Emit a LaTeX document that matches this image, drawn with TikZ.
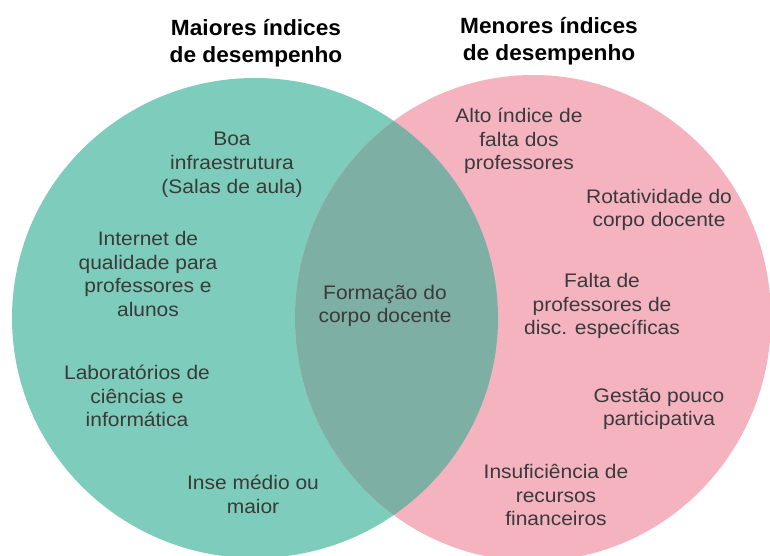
\documentclass[tikz,border=0pt]{standalone}
\usepackage{fontspec}
\setmainfont{Liberation Sans}
\newfontfamily\bodyfont[FakeStretch=1.07]{Liberation Sans}
\newfontfamily\headfont[FakeStretch=1.03]{Liberation Sans}
\definecolor{tealc}{HTML}{7ECCBB}
\definecolor{pinkc}{HTML}{F5B3C0}
\definecolor{overc}{HTML}{7DAFA5}
\definecolor{txtc}{HTML}{3A3A3A}
\tikzset{
  body/.style={align=center, inner sep=0pt, text=txtc,
    font=\bodyfont\fontsize{19.6}{23.8}\selectfont},
  head/.style={align=center, inner sep=0pt, text=black,
    font=\headfont\bfseries\fontsize{22}{27}\selectfont}
}
\begin{document}
\begin{tikzpicture}[x=1pt,y=-1pt]
\useasboundingbox (0,0) rectangle (770,555);
\fill[white] (0,0) rectangle (770,555);
\begin{scope}
\clip (0,0) rectangle (770,555);
\fill[tealc] (255,318) ellipse [x radius=243, y radius=240];
\fill[pinkc] (533,318) ellipse [x radius=238, y radius=243];
\begin{scope}
\clip (255,318) ellipse [x radius=243, y radius=240];
\fill[overc] (533,318) ellipse [x radius=238, y radius=243];
\end{scope}
\end{scope}

\node[head] (h1) at (256,43) {Maiores índices\\de desempenho};
\node[head] (h2) at (549,41) {Menores índices\\de desempenho};

\node[body] (boa) at (232,165) {Boa\\infraestrutura\\(Salas de aula)};
\node[body] (net) at (148,274) {Internet de\\qualidade para\\professores e\\alunos};
\node[body] (lab) at (137,396) {Laboratórios de\\ciências e\\informática};
\node[body] (inse) at (253,494) {Inse médio ou\\maior};
\node[body] (form) at (385,306) {Formação do\\corpo docente};
\node[body] (alto) at (519,141) {Alto índice de\\falta dos\\professores};
\node[body] (rot) at (659,210) {Rotatividade do\\corpo docente};
\node[body] (falta) at (602,306) {Falta de\\professores de\\disc. específicas};
\node[body] (gest) at (659,409) {Gestão pouco\\participativa};
\node[body] (insu) at (556,495) {Insuficiência de\\recursos\\financeiros};
\end{tikzpicture}
\end{document}
